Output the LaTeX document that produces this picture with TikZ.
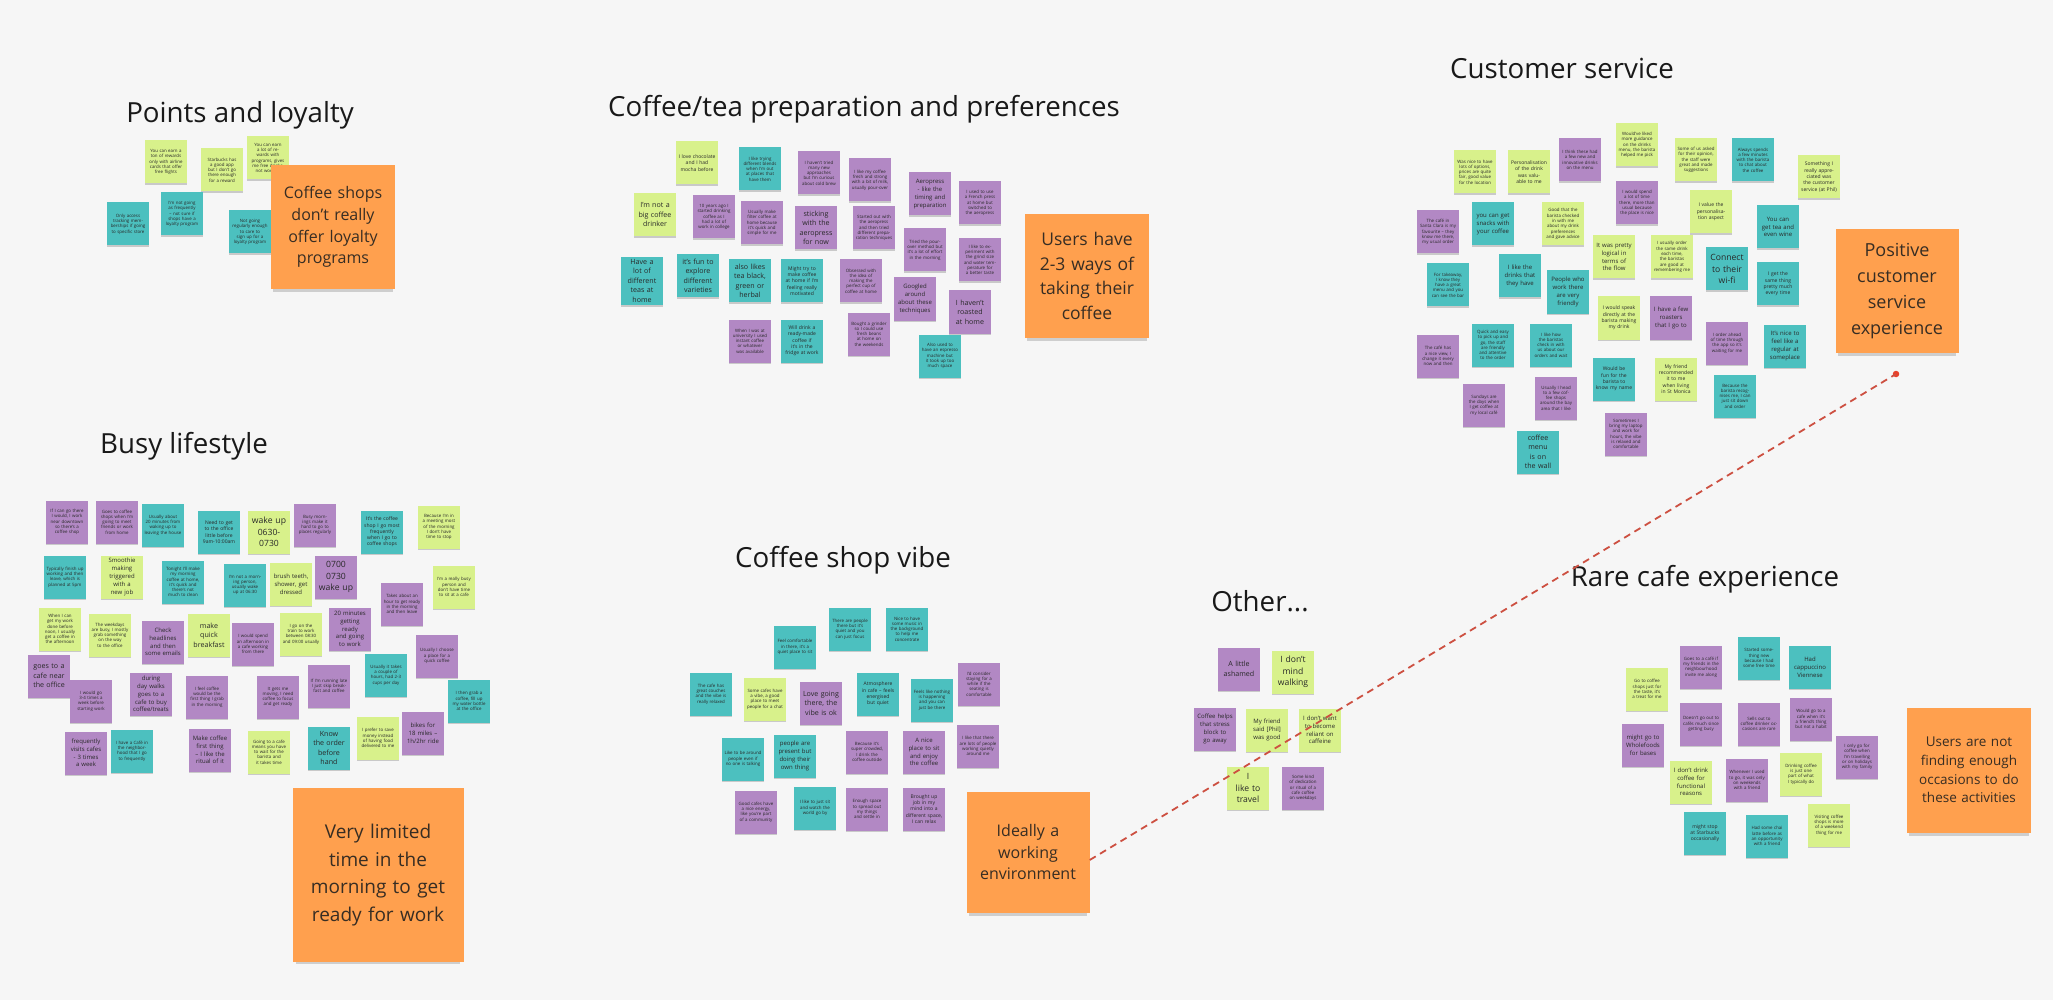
\documentclass[tikz,border=0pt]{standalone}
\usepackage{fontspec}
\setmainfont{Open Sans}
\usetikzlibrary{shadows}
\definecolor{bgc}{RGB}{246,246,246}
\definecolor{cpu}{RGB}{178,136,196}
\definecolor{cte}{RGB}{76,192,191}
\definecolor{cli}{RGB}{216,241,139}
\definecolor{cor}{RGB}{255,160,78}
\definecolor{ntext}{RGB}{40,40,40}
\definecolor{otext}{RGB}{55,45,35}
\definecolor{ttext}{RGB}{25,25,25}
\definecolor{cline}{RGB}{205,80,65}
\definecolor{cdot}{RGB}{232,65,42}
\newcommand\fttl{\fontsize{27.7}{32}\selectfont}
\newcommand\ftny{\fontsize{4.4}{5.3}\selectfont}
\newcommand\fxs{\fontsize{5}{6.3}\selectfont}
\newcommand\fsml{\fontsize{6}{7.8}\selectfont}
\newcommand\fmed{\fontsize{7.1}{9.5}\selectfont}
\newcommand\flrg{\fontsize{8.6}{11.5}\selectfont}
\tikzset{
  stk/.style={rectangle, minimum width=42pt, minimum height=43pt, text width=37pt, inner sep=2.5pt, align=center, font=\ftny, text=ntext,
    drop shadow={shadow xshift=0pt, shadow yshift=-1.6pt, opacity=0.18, fill=black}},
  npu/.style={stk, fill=cpu},
  nte/.style={stk, fill=cte},
  nli/.style={stk, fill=cli},
  nor/.style={rectangle, fill=cor, minimum width=124pt, minimum height=124pt, text width=116pt, inner sep=4pt, align=center, text=otext,
    drop shadow={shadow xshift=0pt, shadow yshift=-6pt, shadow scale=0.96, opacity=0.16, fill=black}},
  ttl/.style={font=\fttl, text=ttext, anchor=base, inner sep=0pt},
  txs/.style={font=\fxs}, tsml/.style={font=\fsml}, tmed/.style={font=\fmed}, tlrg/.style={font=\flrg},
  redline/.style={draw=cline, line width=1.8pt, dash pattern=on 7pt off 5pt},
}
\begin{document}
\begin{tikzpicture}[x=1pt,y=-1pt]
\useasboundingbox (0,0) rectangle (2053,1000);
\fill[bgc] (0,0) rectangle (2053,1000);

% ---------------- titles
\node[ttl] (tP) at (240,123) {Points and loyalty};
\node[ttl] (tC) at (864,117) {Coffee/tea preparation and preferences};
\node[ttl] (tS) at (1562,79) {Customer service};
\node[ttl] (tB) at (184,453) {Busy lifestyle};
\node[ttl] (tV) at (843,567) {Coffee shop vibe};
\node[ttl] (tO) at (1260,611) {Other...};
\node[ttl] (tR) at (1705,586) {Rare cafe experience};

% ---------------- Points and loyalty
\node[nli] (p1) at (166,162) {You can earn a ton of rewards only with airline cards that offer free flights};
\node[nli] (p2) at (222,170) {Starbucks has a good app but I don't go there enough for a reward};
\node[nli] (p3) at (268,158) {You can earn a lot of rewards with programs, gives me free drinks, not worth it};
\node[nte] (p4) at (128,224) {Only access tracking memberships if going to specific store};
\node[nte] (p5) at (182,214) {I'm not going as frequently -- not sure if shops have a loyalty program};
\node[nte] (p6) at (250,232) {Not going regularly enough to care to sign up for a loyalty program};

% ---------------- Coffee/tea
\node[nli,txs] (c1) at (697,163) {I love chocolate and I had mocha before};
\node[nli,tmed] (c2) at (655,215) {I'm not a big coffee drinker};
\node[nte] (c3) at (760,169) {I like trying different blends when I'm out at places that have them};
\node[npu] (c4) at (819,173) {I haven't tried many new approaches but I'm curious about cold brew};
\node[npu] (c5) at (870,180) {I like my coffee fresh and strong with a bit of milk, usually pour-over};
\node[npu,tsml] (c6) at (930,194) {Aeropress - like the timing and preparation};
\node[npu] (c7) at (980,203) {I used to use a French press at home but switched to the aeropress};
\node[npu] (c8) at (714,217) {10 years ago I started drinking coffee as I had a lot of work in college};
\node[npu] (c9) at (762,223) {Usually make filter coffee at home because it's quick and simple for me};
\node[npu,tmed] (c10) at (816,228) {sticking with the aeropress for now};
\node[npu] (c11) at (874,228) {Started out with the aeropress and then tried different preparation techniques};
\node[npu] (c12) at (925,250) {Tried the pour-over method but it's a lot of effort in the morning};
\node[npu] (c13) at (980,260) {I like to experiment with the grind size and water temperature for a better taste};
\node[nte,tmed] (c14) at (642,281) {Have a lot of different teas at home};
\node[nte,tmed] (c15) at (698,276) {it's fun to explore different varieties};
\node[nte,tmed] (c16) at (750,281) {also likes tea black, green or herbal};
\node[nte,txs] (c17) at (802,281) {Might try to make coffee at home if I'm feeling really motivated};
\node[npu] (c18) at (861,281) {Obsessed with the idea of making the perfect cup of coffee at home};
\node[npu,tsml] (c19) at (915,299) {Googled around about these techniques};
\node[npu,tmed] (c20) at (970,312) {I haven't roasted at home};
\node[npu] (c21) at (750,341) {When I was at university I used instant coffee or whatever was available};
\node[nte,txs] (c22) at (802,341) {Will drink a ready-made coffee if it's in the fridge at work};
\node[npu] (c23) at (869,334) {Bought a grinder so I could use fresh beans at home on the weekends};
\node[nte] (c24) at (940,356) {Also used to have an espresso machine but it took up too much space};

% ---------------- Customer service
\node[nli] (s1) at (1475,172) {Was nice to have lots of options, prices are quite fair, good value for the location};
\node[nli,txs] (s2) at (1529,172) {Personalisation of the drink was valuable to me};
\node[npu] (s3) at (1580,160) {I think these had a few new and innovative drinks on the menu};
\node[nli] (s4) at (1637,145) {Would've liked more guidance on the drinks menu, the barista helped me pick};
\node[nli] (s5) at (1696,160) {Some of us asked for their opinion, the staff were great and made suggestions};
\node[nte] (s6) at (1753,160) {Always spends a few minutes with the barista to chat about the coffee};
\node[nli,txs] (s7) at (1819,177) {Something I really appreciated was the customer service (at Phil)};
\node[npu] (s8) at (1438,232) {The caf\'e in Santa Clara is my favourite -- they know me there, my usual order};
\node[nte,tsml] (s9) at (1493,224) {you can get snacks with your coffee};
\node[nli] (s10) at (1563,224) {Good that the barista checked in with me about my drink preferences and gave advice};
\node[npu] (s11) at (1637,203) {I would spend a lot of time there, more than usual because the place is nice};
\node[nli,txs] (s12) at (1711,212) {I value the personalisation aspect};
\node[nte,tsml] (s13) at (1778,227) {You can get tea and even wine};
\node[nte] (s14) at (1448,285) {For takeaway, I know they have a great menu and you can see the bar};
\node[nte,tsml] (s15) at (1520,276) {I like the drinks that they have};
\node[nli,tsml] (s16) at (1614,257) {It was pretty logical in terms of the flow};
\node[nli] (s17) at (1672,257) {I usually order the same drink each time, the baristas are good at remembering me};
\node[nte,tlrg] (s18) at (1727,269) {Connect to their wi-fi};
\node[nte,txs] (s19) at (1778,284) {I get the same thing pretty much every time};
\node[nte,tsml] (s20) at (1568,292) {People who work there are very friendly};
\node[nli,txs] (s21) at (1619,318) {I would speak directly at the barista making my drink};
\node[npu,tsml] (s22) at (1671,318) {I have a few roasters that I go to};
\node[npu] (s23) at (1438,356) {The caf\'e has a nice view, I change it every now and then};
\node[nte] (s24) at (1493,345) {Quick and easy to pick up and go, the staff are friendly and attentive to the order};
\node[nte] (s25) at (1551,345) {I like how the baristas check in with us about our orders and wait};
\node[npu] (s26) at (1727,343) {I order ahead of time through the app so it's waiting for me};
\node[nte,tsml] (s27) at (1785,346) {It's nice to feel like a regular at someplace};
\node[nte,txs] (s28) at (1614,379) {Would be fun for the barista to know my name};
\node[nli,txs] (s29) at (1676,379) {My friend recommended it to me when living in St Monica};
\node[npu] (s30) at (1484,405) {Sundays are the days when I get coffee at my local caf\'e};
\node[npu] (s31) at (1556,398) {Usually I head to a few coffee shops around the bay area that I like};
\node[nte] (s32) at (1735,396) {Because the barista recognises me, I can just sit down and order};
\node[npu] (s33) at (1626,434) {Sometimes I bring my laptop and work for hours, the vibe is relaxed and comfortable};
\node[nte,tmed] (s34) at (1538,452) {coffee menu is on the wall};

% ---------------- Busy lifestyle
\node[npu] (ba) at (67,522) {If I can go there I would, I work near downtown so there's a coffee shop};
\node[npu] (bb) at (117,522) {Goes to coffee shops when I'm going to meet friends or work from home};
\node[nte] (bc) at (163,525) {Usually about 20 minutes from waking up to leaving the house};
\node[nte,txs] (bd) at (219,532) {Need to get to the office little before 9am-10:00am};
\node[nli,tlrg] (be) at (269,532) {wake up\\0630-\\0730};
\node[npu] (bf) at (315,525) {Busy mornings make it hard to go to places regularly};
\node[nte,txs] (bg) at (382,532) {It's the coffee shop I go most frequently when I go to coffee shops};
\node[nli] (bh) at (439,527) {Because I'm in a meeting most of the morning I don't have time to stop};
\node[nte] (bi) at (65,577) {Typically finish up working and then leave, which is planned at 5pm};
\node[nli,tsml] (bj) at (122,577) {Smoothie making triggered with a new job};
\node[nte] (bk) at (183,582) {Tonight I'll make my morning coffee at home, it's quick and there's not much to clean};
\node[nte] (bl) at (245,585) {I'm not a morning person, usually wake up at 06:30};
\node[nli,tsml] (bm) at (291,584) {brush teeth, shower, get dressed};
\node[npu,tlrg] (bn) at (336,577) {0700\\0730\\wake up};
\node[npu] (bo) at (402,604) {Takes about an hour to get ready in the morning and then leave};
\node[nli] (bp) at (454,587) {I'm a really busy person and don't have time to sit at a cafe};
\node[nli] (bq) at (60,629) {When I can get my work done before noon, I usually get a coffee in the afternoon};
\node[nli] (br) at (110,635) {The weekdays are busy, I mostly grab something on the way to the office};
\node[npu,tsml] (bs) at (163,642) {Check headlines and then some emails};
\node[nli,tmed] (bt) at (209,635) {make quick breakfast};
\node[npu] (bu) at (253,644) {I would spend an afternoon in a cafe working from there};
\node[nli] (bv) at (301,634) {I go on the train to work between 08:30 and 09:00 usually};
\node[npu,tsml] (bw) at (350,629) {20 minutes getting ready and going to work};
\node[npu] (bx) at (437,656) {Usually I choose a place for a quick coffee};
\node[nte] (by) at (386,675) {Usually it takes a couple of hours, had 2-3 cups per day};
\node[npu,tmed] (bz) at (49,676) {goes to a cafe near the office};
\node[npu] (bA) at (91,701) {I would go 3-4 times a week before starting work};
\node[npu,tsml] (bB) at (151,694) {during day walks goes to a cafe to buy coffee/treats};
\node[npu] (bC) at (207,697) {I feel coffee would be the first thing I grab in the morning};
\node[npu] (bD) at (278,697) {It gets me moving, I need coffee to focus and get ready};
\node[npu] (bE) at (329,686) {If I'm running late I just skip breakfast and coffee};
\node[nte] (bF) at (469,701) {I then grab a coffee, fill up my water bottle at the office};
\node[npu,tsml] (bG) at (86,753) {frequently visits cafes - 3 times a week};
\node[nte] (bH) at (132,751) {I have a Caf\'e in the neighborhood that I go to frequently};
\node[npu,tsml] (bI) at (210,750) {Make coffee first thing -- I like the ritual of it};
\node[nli] (bJ) at (269,752) {Going to a cafe means you have to wait for the barista and it takes time};
\node[nte,tmed] (bK) at (329,748) {Know the order before hand};
\node[nli] (bL) at (378,738) {I prefer to save money instead of having food delivered to me};
\node[npu,tsml] (bM) at (423,733) {bikes for 18 miles -- 1h/2hr ride};

% ---------------- Coffee shop vibe
\node[nte] (v1) at (795,647) {Feel comfortable in there, it's a quiet place to sit};
\node[nte] (v2) at (850,629) {There are people there but it's quiet and you can just focus};
\node[nte] (v3) at (907,629) {Nice to have some music in the background to help me concentrate};
\node[nte] (v4) at (711,694) {The cafe has great couches and the vibe is really relaxed};
\node[nli] (v5) at (765,699) {Some cafes have a vibe, a good place to meet people for a chat};
\node[npu,tmed] (v6) at (821,703) {Love going there, the vibe is ok};
\node[nte,txs] (v7) at (878,694) {Atmosphere in cafe -- feels energised but quiet};
\node[nte] (v8) at (932,700) {Feels like nothing is happening and you can just be there};
\node[npu] (v9) at (979,684) {I'd consider staying for a while if the seating is comfortable};
\node[nte] (v10) at (743,759) {Like to be around people even if no one is talking};
\node[nte,tsml] (v11) at (795,756) {people are present but doing their own thing};
\node[npu] (v12) at (867,752) {Because it's super crowded, I drink the coffee outside};
\node[npu,tsml] (v13) at (924,752) {A nice place to sit and enjoy the coffee};
\node[npu] (v14) at (978,746) {I like that there are lots of people working quietly around me};
\node[npu] (v15) at (756,812) {Good cafes have a nice energy, like you're part of a community};
\node[nte] (v16) at (815,808) {I like to just sit and watch the world go by};
\node[npu] (v17) at (867,809) {Enough space to spread out my things and settle in};
\node[npu,txs] (v18) at (924,809) {Brought up job in my mind into a different space, I can relax};

% ---------------- Other
\node[npu,tmed] (o1) at (1239,669) {A little ashamed};
\node[nli,tlrg] (o2) at (1293,672) {I don't mind walking};
\node[npu,tsml] (o3) at (1215,729) {Coffee helps that stress block to go away};
\node[nli,tsml] (o4) at (1267,730) {My friend said [Phil] was good};
\node[nli,tsml] (o5) at (1320,730) {I don't want to become reliant on caffeine};
\node[nli,tlrg] (o6) at (1248,788) {I\\like to\\travel};
\node[npu] (o7) at (1303,788) {Some kind of dedication or ritual of a cafe coffee on weekdays};

% ---------------- Rare cafe experience
\node[nli] (r1) at (1647,689) {Go to coffee shops just for the taste, it's a treat for me};
\node[npu] (r2) at (1701,667) {Goes to a caf\'e if my friends in the neighbourhood invite me along};
\node[nte] (r3) at (1759,658) {Started something new because I had some free time};
\node[nte,tsml] (r4) at (1810,667) {Had\\cappuccino\\Viennese};
\node[npu,tsml] (r5) at (1643,745) {might go to Wholefoods for bases};
\node[npu] (r6) at (1701,724) {Doesn't go out to caf\'es much since getting busy};
\node[npu] (r7) at (1759,724) {Sells out to coffee drinker occasions are rare};
\node[npu] (r8) at (1811,719) {Would go to a cafe when it's a friend's thing but not a habit};
\node[npu] (r9) at (1857,757) {I only go for coffee when I'm travelling or on holidays with my family};
\node[nli,tsml] (r10) at (1691,782) {I don't drink coffee for functional reasons};
\node[npu] (r11) at (1747,780) {Whenever I used to go, it was only on weekends with a friend};
\node[nli] (r12) at (1801,774) {Drinking coffee is just one part of what I typically do};
\node[nte,txs] (r13) at (1705,833) {might stop at Starbucks occasionally};
\node[nte] (r14) at (1767,836) {Had some chai latte before as an opportunity with a friend};
\node[nli] (r15) at (1829,825) {Visiting coffee shops is more of a weekend thing for me};

% ---------------- orange insight notes
\node[nor, font={\fontsize{16}{21.7}\selectfont}] (P0) at (333,227) {Coffee shops\\don't really\\offer loyalty\\programs};
\node[nor, font={\fontsize{17.5}{24.5}\selectfont}] (C0) at (1087,276) {Users have\\2-3 ways of\\taking their\\coffee};
\node[nor, minimum width=123pt, text width=115pt, font={\fontsize{18}{26}\selectfont}] (S0) at (1897,291) {Positive\\customer\\service\\experience};
\node[nor, minimum width=171pt, minimum height=174pt, text width=163pt, font={\fontsize{19}{27.7}\selectfont}] (B0) at (378,875) {Very limited\\time in the\\morning to get\\ready for work};
\node[nor, minimum width=123pt, minimum height=121pt, text width=115pt, font={\fontsize{16}{21.7}\selectfont}] (V0) at (1028,852) {Ideally a\\working\\environment};
\node[nor, minimum height=125pt, font={\fontsize{13.5}{18.7}\selectfont}] (R0) at (1969,770) {Users are not\\finding enough\\occasions to do\\these activities};

% ---------------- dashed connector
\node[circle, fill=cdot, inner sep=0pt, minimum size=6.5pt] (dotS) at (1896,374) {};
\draw[redline] ([yshift=-8pt]V0.east) -- (dotS.center);
\end{tikzpicture}
\end{document}
